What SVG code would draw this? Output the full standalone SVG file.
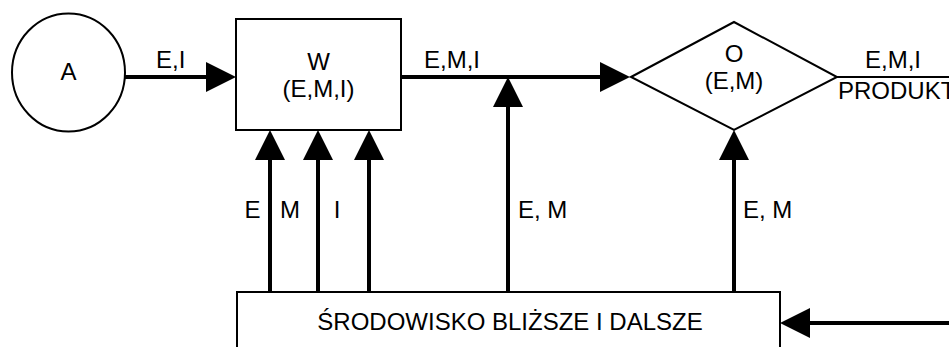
<svg xmlns="http://www.w3.org/2000/svg" width="949" height="347" viewBox="0 0 949 347">
<defs>
<style>
.shape{fill:#fff;stroke:#000;stroke-width:2}
.t{font-family:"Liberation Sans",Arial,sans-serif;font-size:24px;fill:#000}
.m{text-anchor:middle}
.c{stroke:#000;stroke-width:4;fill:none}
.thin{stroke:#000;stroke-width:2;fill:none}
</style>
<marker id="ah" markerUnits="userSpaceOnUse" markerWidth="30" markerHeight="30" refX="0" refY="15" orient="auto" viewBox="0 0 30 30">
<path d="M0,0 L30,15 L0,30 Z" fill="#000"/>
</marker>
</defs>
<rect width="949" height="347" fill="#fff"/>
<g id="node-A">
<ellipse class="shape" cx="68.5" cy="72.5" rx="56.5" ry="59"/>
<text class="t m" x="68.5" y="80">A</text>
</g>
<g id="node-W">
<rect class="shape" x="236" y="19" width="165" height="111"/>
<text class="t m" x="318.5" y="70">W</text>
<text class="t m" x="318.5" y="97">(E,M,I)</text>
</g>
<g id="node-O">
<polygon class="shape" points="631,77 734,22 837,77 734,130"/>
<text class="t m" x="734" y="62">O</text>
<text class="t m" x="734" y="89">(E,M)</text>
</g>
<g id="node-env">
<rect class="shape" x="237" y="292" width="543" height="70"/>
<text class="t m" x="510" y="330">ŚRODOWISKO BLIŻSZE I DALSZE</text>
</g>
<g id="connectors">
<line class="c" x1="125" y1="77" x2="206" y2="77" marker-end="url(#ah)"/>
<line class="c" x1="402" y1="77" x2="600" y2="77" marker-end="url(#ah)"/>
<line class="thin" x1="837" y1="77" x2="949" y2="77"/>
<line class="c" x1="270" y1="292" x2="270" y2="160" marker-end="url(#ah)"/>
<line class="c" x1="318" y1="292" x2="318" y2="160" marker-end="url(#ah)"/>
<line class="c" x1="369" y1="292" x2="369" y2="160" marker-end="url(#ah)"/>
<line class="c" x1="508" y1="292" x2="508" y2="107" marker-end="url(#ah)"/>
<line class="c" x1="734" y1="292" x2="734" y2="160" marker-end="url(#ah)"/>
<line class="c" x1="949" y1="323" x2="810" y2="323" marker-end="url(#ah)"/>
<text class="t" x="156" y="68">E,I</text>
<text class="t" x="424" y="68">E,M,I</text>
<text class="t" x="865" y="68">E,M,I</text>
<text class="t" x="838" y="99">PRODUKT</text>
<text class="t m" x="252.5" y="218">E</text>
<text class="t m" x="290" y="218">M</text>
<text class="t m" x="337" y="218">I</text>
<text class="t" x="518" y="218">E, M</text>
<text class="t" x="743" y="218">E, M</text>
</g>
</svg>
